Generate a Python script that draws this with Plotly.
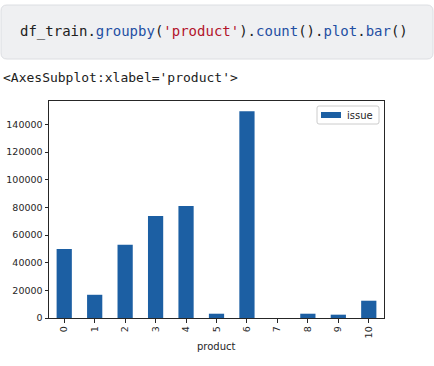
import plotly.graph_objects as go

categories = ["0", "1", "2", "3", "4", "5", "6", "7", "8", "9", "10"]
issue_counts = [50000, 16800, 52900, 73800, 81000, 3100, 149500, 0, 3100, 2400, 12500]
y_ticks = [0, 20000, 40000, 60000, 80000, 100000, 120000, 140000]
series_name = "issue"

W, H = 434, 366
L, R, T, B = 49, 50, 101, 48
PW, PH = W - L - R, H - T - B

def px(x):
    return (x - L) / PW

def py(y):
    return (H - B - y) / PH

BAR = "#1c5fa3"
TXT = "#262626"

fig = go.Figure()
fig.add_trace(go.Bar(x=categories, y=issue_counts, marker=dict(color=BAR, line=dict(width=0)),
                     name=series_name, showlegend=False))

def rounded(x0, y0, x1, y1, r):
    a0, a1 = px(x0), px(x1)
    b0, b1 = py(y0), py(y1)
    rx, ry = r / PW, r / PH
    return (f"M {a0+rx},{b0} L {a1-rx},{b0} Q {a1},{b0} {a1},{b0-ry} "
            f"L {a1},{b1+ry} Q {a1},{b1} {a1-rx},{b1} L {a0+rx},{b1} "
            f"Q {a0},{b1} {a0},{b1+ry} L {a0},{b0-ry} Q {a0},{b0} {a0+rx},{b0} Z")

shapes = [
    # code cell box
    dict(type="path", xref="paper", yref="paper", path=rounded(1, 5, 433, 59, 6),
         fillcolor="#eff0f2", line=dict(color="#dcdee2", width=1), layer="below"),
    # legend box
    dict(type="path", xref="paper", yref="paper", path=rounded(317, 106, 379, 124, 2),
         fillcolor="rgba(255,255,255,0.8)", line=dict(color="#cccccc", width=1)),
    dict(type="rect", xref="paper", yref="paper", x0=px(321), x1=px(341), y0=py(112), y1=py(118),
         fillcolor=BAR, line=dict(width=0)),
]

code = ("df_train.<span style='color:#1f4fa3'>groupby</span>("
        "<span style='color:#b3142b'>'product'</span>)."
        "<span style='color:#1f4fa3'>count</span>()."
        "<span style='color:#1f4fa3'>plot</span>."
        "<span style='color:#1f4fa3'>bar</span>()")

annotations = [
    dict(text=code, xref="paper", yref="paper", x=px(18), y=py(32), xanchor="left", yanchor="middle",
         showarrow=False, font=dict(family="DejaVu Sans Mono", size=14, color="#212121")),
    dict(text="&lt;AxesSubplot:xlabel='product'&gt;", xref="paper", yref="paper", x=px(1), y=py(77),
         xanchor="left", yanchor="middle", showarrow=False,
         font=dict(family="DejaVu Sans Mono", size=13, color="#212121")),
    dict(text="product", xref="paper", yref="paper", x=0.5, y=py(346), xanchor="center", yanchor="middle",
         showarrow=False, font=dict(family="DejaVu Sans", size=10, color=TXT)),
    dict(text=series_name, xref="paper", yref="paper", x=px(345), y=py(115), xanchor="left", yanchor="middle",
         showarrow=False, font=dict(family="DejaVu Sans", size=10, color=TXT)),
]

fig.update_layout(
    width=W, height=H, margin=dict(l=L, r=R, t=T, b=B, pad=0, autoexpand=False),
    paper_bgcolor="white", plot_bgcolor="white",
    bargap=0.5, shapes=shapes, annotations=annotations,
    font=dict(family="DejaVu Sans", size=9.5, color=TXT),
    xaxis=dict(type="category", range=[-0.5, 10.5], tickangle=-90, ticks="outside", ticklen=3.5,
               tickcolor=TXT, showline=True, linecolor=TXT, linewidth=1, mirror=True, automargin=False,
               showgrid=False, zeroline=False, tickfont=dict(size=9.5, color=TXT)),
    yaxis=dict(range=[0, max(issue_counts) * 1.05], tickvals=y_ticks, tickformat="d",
               ticks="outside", ticklen=3.5, automargin=False,
               tickcolor=TXT, showline=True, linecolor=TXT, linewidth=1, mirror=True,
               showgrid=False, zeroline=False, tickfont=dict(size=9.5, color=TXT)),
)

fig.write_html("out.html")
